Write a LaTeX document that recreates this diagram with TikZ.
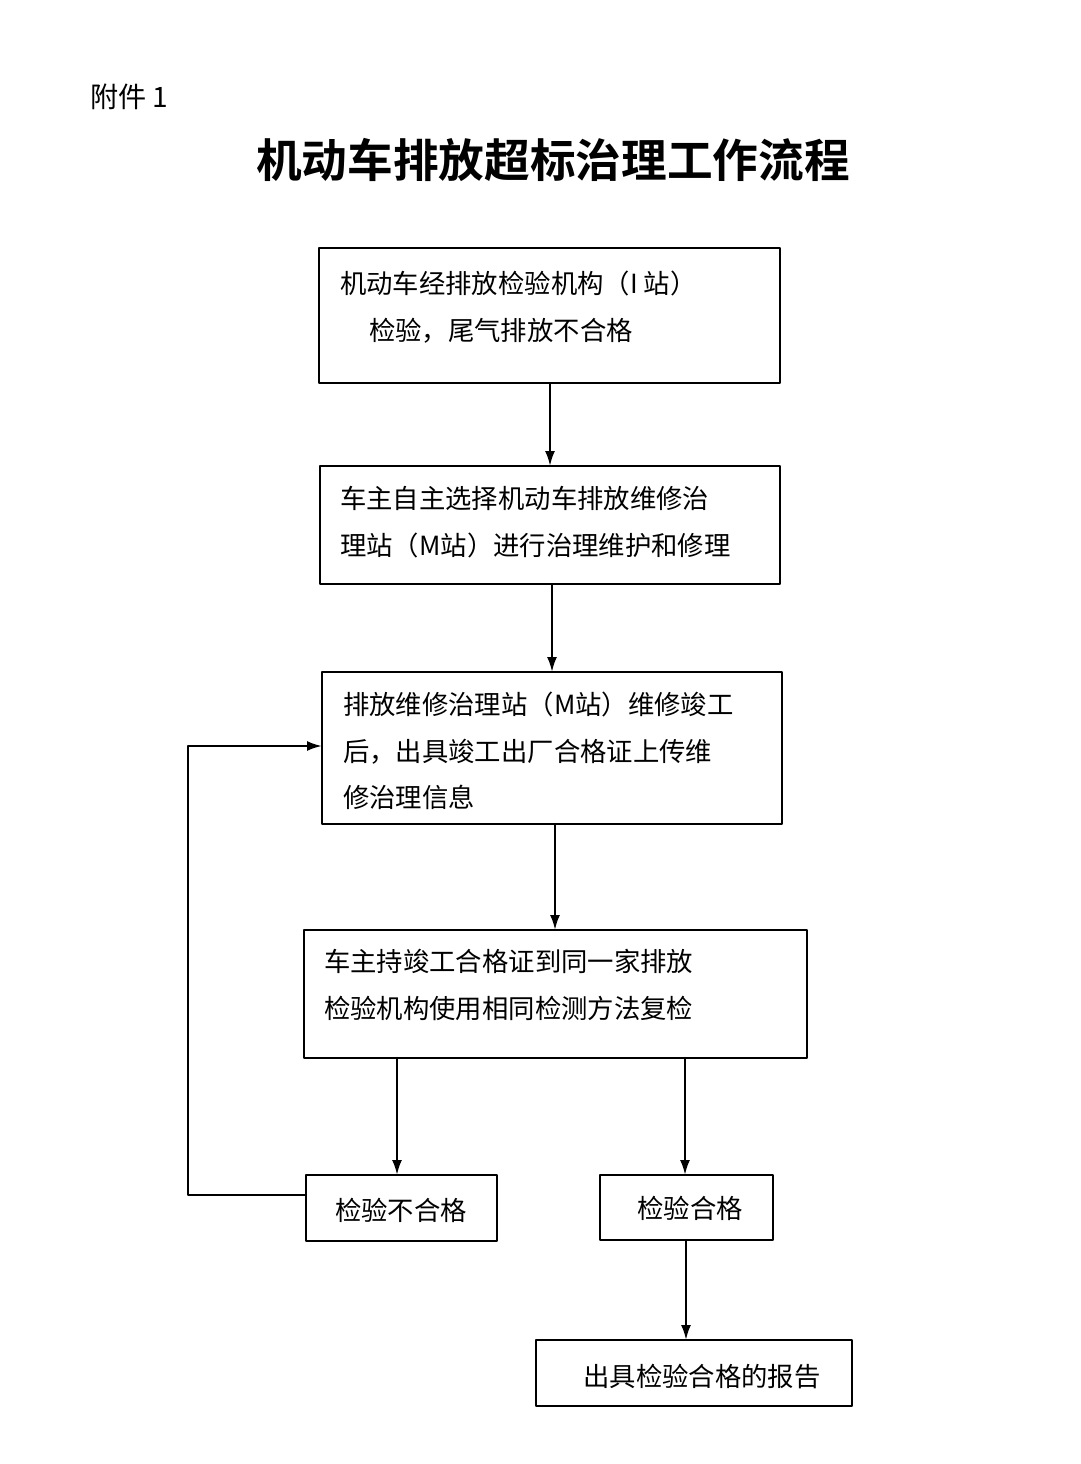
\documentclass[tikz,border=0pt]{standalone}
\usepackage{fontspec}
\setmainfont{Noto Sans CJK SC}
\newfontfamily\cjkbold{Noto Sans CJK SC Bold}
\usetikzlibrary{arrows.meta}
\tikzset{
  flowbox/.style={draw,line width=1.1pt,inner sep=0pt,anchor=north west,text width=#1,align=left},
  flowbox/.default=8cm,
  flowline/.style={line width=1.3pt,-{Latex[length=3mm,width=2mm]}},
  boxfont/.style={font=\fontsize{15}{26.5}\selectfont}
}
\begin{document}
\begin{tikzpicture}[x=0.02cm,y=-0.02cm,line cap=round,line join=round]
\useasboundingbox (0,0) rectangle (1080,1464);
\node[anchor=west,font=\fontsize{16}{18}\selectfont] (annex) at (84,97) {附件 1};
\node[font=\cjkbold\fontsize{26}{30}\selectfont] (title) at (553,160) {机动车排放超标治理工作流程};
% boxes
\draw[line width=1.1pt] (319,248) rectangle (780,383);
\node[boxfont,anchor=north west,align=left] (inspect) at (334,265) {机动车经排放检验机构（I 站）\\\hspace{1.1em}检验，尾气排放不合格};
\coordinate (inspectS) at (550,383);
\draw[line width=1.1pt] (320,466) rectangle (780,584);
\node[boxfont,anchor=north west,align=left] (repair) at (334,480) {车主自主选择机动车排放维修治\\理站（M站）进行治理维护和修理};
\coordinate (repairN) at (550,466);
\coordinate (repairS) at (552,584);
\draw[line width=1.1pt] (322,672) rectangle (782,824);
\node[boxfont,anchor=north west,align=left] (finish) at (337,686) {排放维修治理站（M站）维修竣工\\后，出具竣工出厂合格证上传维\\修治理信息};
\coordinate (finishN) at (552,672);
\coordinate (finishS) at (555,824);
\coordinate (finishW) at (322,746);
\draw[line width=1.1pt] (304,930) rectangle (807,1058);
\node[boxfont,anchor=north west,align=left] (recheck) at (318,943) {车主持竣工合格证到同一家排放\\检验机构使用相同检测方法复检};
\coordinate (recheckN) at (555,930);
\draw[line width=1.1pt] (306,1175) rectangle (497,1241);
\node[boxfont] (fail) at (401,1210) {检验不合格};
\draw[line width=1.1pt] (600,1175) rectangle (773,1240);
\node[boxfont] (pass) at (690,1208) {检验合格};
\draw[line width=1.1pt] (536,1340) rectangle (852,1406);
\node[boxfont] (report) at (702,1376) {出具检验合格的报告};
% connectors
\draw[flowline] (inspectS) -- (repairN);
\draw[flowline] (repairS) -- (finishN);
\draw[flowline] (finishS) -- (recheckN);
\draw[flowline] (397,1058) -- (397,1175);
\draw[flowline] (685,1058) -- (685,1175);
\draw[flowline] (686,1240) -- (686,1340);
\draw[flowline] (306,1195) -- (188,1195) -- (188,746) -- (finishW);
\end{tikzpicture}
\end{document}
